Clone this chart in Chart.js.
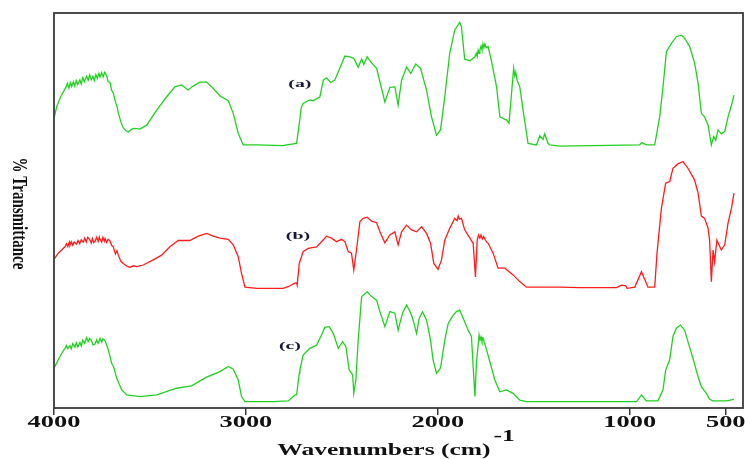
<!DOCTYPE html>
<html>
<head>
<meta charset="utf-8">
<script src="https://cdn.jsdelivr.net/npm/chart.js@4.4.1/dist/chart.umd.min.js"></script>
<style>
  html, body { margin: 0; padding: 0; background: #fff; }
  #wrap { width: 745px; height: 459px; }
</style>
</head>
<body>
<div id="wrap"><canvas id="ftir-chart" width="745" height="459"></canvas></div>
<script>
// tick labels on the wavenumber axis
const xTicks = [4000, 3000, 2000, 1000, 500];
const seriesNames = ['(a)', '(b)', '(c)'];

// spectrum (a), green, top
const waveA = [4000, 3986, 3965, 3937, 3930, 3922, 3915, 3908, 3899, 3892, 3884, 3876, 3865, 3858, 3850, 3842, 3830, 3822, 3814, 3806, 3797, 3790, 3782, 3774, 3766, 3760, 3752, 3744, 3736, 3726, 3718, 3708,
  3700, 3691, 3680, 3672, 3665, 3652, 3639, 3625, 3613, 3595, 3578, 3552, 3517, 3465, 3413, 3370, 3335, 3301, 3275, 3240, 3205, 3170, 3135, 3092, 3066, 3040, 3014, 2944, 2806, 2788, 2736, 2722,
  2712, 2702, 2667, 2650, 2615, 2597, 2580, 2559, 2537, 2511, 2484, 2458, 2438, 2415, 2397, 2386, 2368, 2345, 2319, 2302, 2276, 2250, 2224, 2207, 2189, 2163, 2141, 2115, 2090, 2059, 2033, 2007, 1986,
  1964, 1938, 1912, 1886, 1877, 1860, 1833, 1807, 1800, 1795, 1790, 1785, 1781, 1775, 1770, 1765, 1760, 1755, 1748, 1738, 1720, 1694, 1677, 1642, 1629, 1616, 1605, 1599, 1594, 1587, 1573, 1556, 1530,
  1486, 1469, 1452, 1443, 1426, 1417, 1365, 948, 939, 913, 870, 844, 827, 809, 783, 757, 731, 714, 688, 662, 644, 627, 610, 592, 575, 563, 552, 540, 523, 505, 488, 470, 457];
const transA = [73.3, 76.3, 78.8, 81.3, 82.2, 81.0, 82.4, 81.4, 82.6, 81.5, 82.9, 81.9, 83.1, 82.0, 83.6, 82.6, 84.0, 83.0, 84.3, 83.1, 84.0, 82.9, 84.4, 83.4, 84.7, 83.8, 84.9, 83.8, 85.0, 84.2, 82.6, 82.4,
  80.5, 79.7, 77.5, 76.4, 74.7, 72.5, 70.9, 70.2, 69.9, 70.6, 70.8, 70.6, 71.6, 75.4, 78.8, 81.3, 81.8, 80.5, 81.5, 82.5, 82.5, 80.9, 79.0, 77.8, 74.6, 69.5, 66.6, 66.6, 66.4, 66.6, 67.0, 72.0,
  76.0, 77.1, 78.0, 77.8, 78.7, 83.0, 83.6, 82.4, 83.0, 86.0, 89.1, 88.9, 88.5, 86.3, 88.3, 87.0, 88.9, 87.3, 86.0, 82.6, 77.5, 81.2, 81.3, 76.7, 83.0, 86.3, 84.7, 87.1, 86.0, 80.5, 73.7, 69.1, 70.4,
  78.8, 89.8, 95.7, 97.6, 96.5, 88.3, 87.9, 88.9, 89.8, 89.0, 90.6, 89.8, 90.6, 91.6, 90.7, 92.2, 91.2, 92.1, 91.2, 91.5, 87.7, 81.3, 73.7, 72.9, 72.1, 79.7, 86.0, 84.0, 85.0, 83.0, 81.3, 75.4, 67.0,
  66.6, 68.9, 68.0, 69.4, 67.0, 66.6, 66.3, 66.6, 67.2, 66.6, 66.6, 73.7, 81.3, 90.2, 92.3, 94.0, 94.4, 93.6, 91.5, 87.3, 82.2, 74.6, 73.7, 71.6, 66.6, 68.7, 67.8, 70.4, 69.4, 70.0, 73.7, 76.7, 79.2];

// spectrum (b), red, middle
const waveB = [4000, 3978, 3960, 3943, 3935, 3928, 3920, 3917, 3910, 3902, 3895, 3882, 3875, 3866, 3858, 3847, 3840, 3832, 3824, 3813, 3806, 3800, 3793, 3786, 3778, 3770, 3764, 3760, 3752, 3745, 3738, 3734, 3726, 3718, 3708,
  3700, 3691, 3680, 3672, 3665, 3652, 3639, 3620, 3604, 3585, 3569, 3535, 3483, 3439, 3396, 3353, 3292, 3248, 3205, 3170, 3135, 3092, 3066, 3040, 3023, 3005, 2944, 2806, 2780, 2745, 2736, 2733,
  2722, 2702, 2676, 2632, 2606, 2580, 2554, 2528, 2502, 2484, 2467, 2450, 2438, 2424, 2406, 2389, 2368, 2345, 2319, 2302, 2276, 2250, 2224, 2207, 2189, 2163, 2137, 2111, 2085, 2059, 2038, 2021, 1999,
  1981, 1964, 1938, 1912, 1900, 1894, 1888, 1877, 1860, 1833, 1816, 1804, 1795, 1788, 1781, 1775, 1768, 1761, 1750, 1738, 1712, 1686, 1651, 1608, 1573, 1538, 1365, 1261, 1069, 1043, 1021, 1014,
  974, 939, 905, 870, 858, 835, 813, 792, 775, 749, 723, 697, 662, 644, 627, 610, 592, 584, 575, 566, 558, 546, 523, 505, 488, 470, 457];
const transB = [37.6, 39.2, 40.0, 40.8, 41.6, 40.9, 42.0, 41.2, 42.1, 41.2, 42.0, 41.5, 42.4, 41.6, 42.6, 42.0, 43.0, 42.0, 43.2, 42.6, 41.8, 42.9, 41.9, 42.2, 43.2, 42.2, 43.3, 42.7, 42.0, 43.2, 42.2, 42.9, 41.9, 42.7, 42.3,
  41.2, 40.8, 39.0, 39.8, 38.7, 37.2, 36.6, 35.9, 35.6, 36.0, 35.8, 36.2, 37.5, 38.7, 40.8, 42.4, 42.4, 43.5, 44.2, 43.5, 43.0, 42.7, 41.3, 38.3, 34.1, 30.6, 30.3, 30.3, 30.7, 31.6, 31.7, 31.1,
  36.6, 39.6, 40.4, 40.8, 42.1, 43.5, 43.0, 42.1, 42.7, 42.1, 39.6, 39.2, 34.9, 40.0, 47.2, 48.0, 48.3, 47.3, 46.9, 44.6, 41.8, 43.8, 44.6, 41.3, 44.6, 46.3, 45.1, 44.6, 45.9, 44.2, 41.7, 36.6, 35.1,
  37.5, 42.5, 45.5, 48.0, 47.4, 48.6, 47.8, 48.0, 45.1, 43.0, 41.7, 33.2, 42.5, 43.8, 43.0, 43.8, 42.8, 43.4, 42.3, 41.7, 39.2, 35.4, 35.4, 33.7, 32.0, 30.6, 30.6, 30.5, 30.5, 31.1, 30.9, 30.3,
  30.6, 34.5, 30.6, 30.6, 39.2, 50.6, 56.9, 57.3, 60.7, 61.8, 62.4, 60.7, 57.7, 54.4, 48.6, 48.0, 45.5, 42.5, 32.0, 40.0, 37.0, 42.5, 40.0, 41.3, 46.8, 50.6, 54.4];

// spectrum (c), green, bottom
const waveC = [4000, 3978, 3960, 3943, 3935, 3928, 3917, 3910, 3902, 3891, 3884, 3876, 3865, 3858, 3850, 3840, 3830, 3822, 3814, 3804, 3797, 3786, 3778, 3770, 3760, 3752, 3745, 3734, 3726,
  3717, 3708, 3700, 3690, 3673, 3660, 3647, 3621, 3552, 3465, 3361, 3283, 3205, 3135, 3092, 3066, 3040, 3023, 3005, 2858, 2780, 2762, 2745, 2736, 2722,
  2719, 2702, 2667, 2632, 2606, 2589, 2566, 2545, 2519, 2496, 2479, 2462, 2444, 2438, 2427, 2415, 2397, 2368, 2345, 2319, 2302, 2276, 2250, 2224, 2207, 2184, 2163, 2141, 2129, 2111, 2097, 2080, 2059,
  2038, 2025, 2007, 1986, 1964, 1946, 1920, 1903, 1886, 1868, 1842, 1825, 1807, 1799, 1785, 1780, 1775, 1770, 1764, 1746, 1729, 1703, 1677, 1642, 1608, 1573, 1538, 1365, 965, 939, 913, 853,
  827, 813, 792, 775, 757, 736, 714, 697, 671, 644, 627, 601, 584, 566, 497, 457];
const transC = [10.1, 12.2, 13.8, 15.1, 15.8, 15.0, 15.8, 15.0, 16.3, 15.4, 16.5, 15.5, 16.6, 15.7, 17.2, 16.4, 17.8, 16.8, 17.6, 17.0, 16.0, 16.2, 17.3, 16.4, 17.6, 16.7, 17.5, 17.0, 16.0,
  14.7, 13.0, 11.3, 10.5, 7.5, 6.0, 4.6, 3.3, 2.9, 3.3, 5.0, 5.6, 7.8, 9.2, 10.5, 9.8, 7.1, 2.9, 1.6, 1.6, 1.8, 2.5, 3.3, 3.3, 8.8,
  9.6, 13.4, 15.1, 15.9, 18.5, 20.4, 20.6, 18.9, 15.1, 16.8, 15.5, 9.6, 8.4, 3.7, 7.1, 17.2, 28.2, 29.4, 28.2, 27.3, 24.4, 20.6, 24.4, 24.0, 19.7, 24.0, 26.1, 24.0, 22.3, 18.9, 22.7, 24.4, 22.3,
  17.2, 12.2, 8.8, 10.1, 17.2, 21.4, 23.5, 24.4, 24.8, 22.7, 19.7, 18.1, 2.9, 11.3, 18.5, 17.2, 18.0, 16.9, 17.6, 14.7, 11.7, 7.1, 4.1, 4.6, 3.7, 2.0, 1.6, 1.6, 1.6, 3.3, 1.8, 1.8,
  4.6, 9.6, 12.2, 18.1, 20.2, 21.0, 19.7, 16.8, 12.6, 7.9, 5.4, 3.7, 2.2, 1.8, 1.8, 2.2];

// where the (a)/(b)/(c) tags sit, in axis units
const tagWave = [2719, 2729, 2771];
const tagTrans = [82.0, 43.5, 15.7];

const toPoints = (w, t) => w.map((x, i) => ({ x: x, y: t[i] }));

const serif = '"Liberation Serif", "Times New Roman", serif';

// draws the stretched bold serif text the way the scanned figure shows it
const drawWide = (ctx, text, x, y, size, stretch, align) => {
  ctx.save();
  ctx.font = 'bold ' + size + 'px ' + serif;
  ctx.textBaseline = 'middle';
  const w = ctx.measureText(text).width * stretch;
  let left = x;
  if (align === 'center') left = x - w / 2;
  ctx.translate(left, y);
  ctx.scale(stretch, 1);
  ctx.textAlign = 'left';
  ctx.fillText(text, 0, 0);
  ctx.restore();
  return w;
};

const decorPlugin = {
  id: 'decor',
  afterDraw(chart) {
    const ctx = chart.ctx;
    const area = chart.chartArea;
    const xs = chart.scales.x;
    const ys = chart.scales.y;

    // frame
    ctx.save();
    ctx.strokeStyle = '#3a3a3a';
    ctx.lineWidth = 1.8;
    ctx.strokeRect(area.left, area.top, area.right - area.left, area.bottom - area.top);
    ctx.restore();

    // tick labels
    ctx.fillStyle = '#111';
    xTicks.forEach(v => {
      drawWide(ctx, String(v), xs.getPixelForValue(v), 423, 16, 1.65, 'center');
    });

    // x title with superscript
    ctx.save();
    ctx.font = 'bold 17px ' + serif;
    const mainW = ctx.measureText('Wavenumbers (cm)').width * 1.5;
    const supW = ctx.measureText('-1').width * 1.5;
    ctx.restore();
    const cx = (area.left + area.right) / 2 - 4;
    const startX = cx - (mainW + supW) / 2;
    drawWide(ctx, 'Wavenumbers (cm)', startX, 451, 17, 1.5, 'left');
    drawWide(ctx, '-1', startX + mainW + 3, 437, 17, 1.5, 'left');

    // y title, reading downwards
    ctx.save();
    ctx.translate(18, (area.top + area.bottom) / 2 + 3);
    ctx.rotate(Math.PI / 2);
    ctx.scale(1, 1.4);
    ctx.font = 'bold 15px ' + serif;
    ctx.textAlign = 'center';
    ctx.textBaseline = 'middle';
    ctx.fillStyle = '#111';
    ctx.fillText('% Transmittance', 0, 0);
    ctx.restore();

    // series tags
    ctx.fillStyle = '#16163a';
    seriesNames.forEach((name, i) => {
      drawWide(ctx, name, xs.getPixelForValue(tagWave[i]), ys.getPixelForValue(tagTrans[i]), 11, 1.8, 'center');
    });
  }
};

const chartInit = () => {
  const ctx = document.getElementById('ftir-chart').getContext('2d');
  new Chart(ctx, {
    type: 'line',
    data: {
      datasets: [
        { label: seriesNames[0], data: toPoints(waveA, transA), borderColor: '#22d022', borderWidth: 1.3 },
        { label: seriesNames[1], data: toPoints(waveB, transB), borderColor: '#ff1c1c', borderWidth: 1.3 },
        { label: seriesNames[2], data: toPoints(waveC, transC), borderColor: '#22d022', borderWidth: 1.3 }
      ]
    },
    options: {
      responsive: false,
      animation: false,
      elements: {
        point: { radius: 0 },
        line: { tension: 0 }
      },
      layout: {
        padding: { left: 54, top: 13, right: 2, bottom: 0 }
      },
      plugins: {
        legend: { display: false },
        tooltip: { enabled: false }
      },
      scales: {
        x: {
          type: 'linear',
          reverse: true,
          min: 410,
          max: 4000,
          border: { display: false },
          grid: {
            display: true,
            drawOnChartArea: false,
            drawTicks: true,
            tickLength: 7,
            color: '#3a3a3a',
            lineWidth: 1.5
          },
          ticks: { display: false },
          afterBuildTicks: scale => {
            scale.ticks = xTicks.map(v => ({ value: v }));
          },
          afterFit: scale => {
            scale.height = 51;
          }
        },
        y: {
          display: false,
          min: 0,
          max: 100
        }
      }
    },
    plugins: [decorPlugin]
  });
};

chartInit();
</script>
</body>
</html>
